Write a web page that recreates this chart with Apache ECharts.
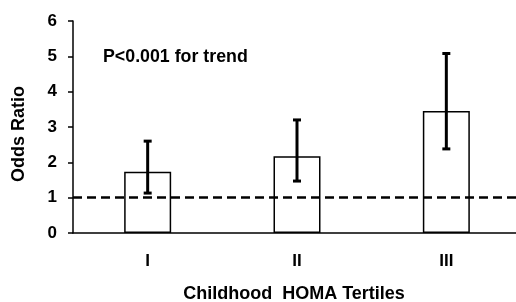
<!DOCTYPE html>
<html>
<head>
<meta charset="utf-8">
<script src="https://cdn.jsdelivr.net/npm/echarts@6/dist/echarts.min.js"></script>
<style>
  html, body { margin: 0; padding: 0; background: #fff; }
  #chart { width: 516px; height: 302px; }
</style>
</head>
<body>
<div id="chart"></div>
<script>
  // tertiles and odds ratios (with 95% CI)
  var tertiles = ['I', 'II', 'III'];
  var oddsRatio = [1.73, 2.17, 3.45];
  var ciLower = [1.13, 1.47, 2.38];
  var ciUpper = [2.6, 3.2, 5.08];
  var refLine = 1;

  var font = 'Arial, "Liberation Sans", sans-serif';
  var myChart = echarts.init(document.getElementById('chart'));

  var option = {
    animation: false,
    textStyle: { fontFamily: font },
    grid: { left: 73, top: 21, width: 448, height: 212, outerBoundsMode: 'none' },
    graphic: [{
      type: 'text',
      left: 103,
      top: 48,
      style: { text: 'P<0.001 for trend', font: 'bold 17.8px ' + font, fill: '#000' }
    }],
    xAxis: {
      type: 'category',
      data: tertiles,
      name: 'Childhood  HOMA Tertiles',
      nameLocation: 'middle',
      nameGap: 52,
      nameTextStyle: { fontSize: 18, fontWeight: 'bold', color: '#000', padding: [0, 6, 0, 0] },
      axisLine: { lineStyle: { color: '#000', width: 1.5 } },
      axisTick: { show: false },
      axisLabel: { margin: 20, fontSize: 17, fontWeight: 'bold', color: '#000' }
    },
    yAxis: {
      type: 'value',
      min: 0, max: 6, interval: 1,
      name: 'Odds Ratio',
      nameLocation: 'middle',
      nameGap: 45,
      nameTextStyle: { fontSize: 18, fontWeight: 'bold', color: '#000', padding: [0, 14, 0, 0] },
      axisLine: { show: true, lineStyle: { color: '#000', width: 1.5 } },
      axisTick: { show: true, length: 5, lineStyle: { color: '#000', width: 1.5 } },
      axisLabel: { margin: 16, fontSize: 17, fontWeight: 'bold', color: '#000' },
      splitLine: { show: false }
    },
    series: [{
      type: 'bar',
      data: oddsRatio,
      barWidth: 47,
      itemStyle: { color: '#fff', borderColor: '#000', borderWidth: 1.5 },
      markLine: {
        silent: true,
        symbol: 'none',
        label: { show: false },
        lineStyle: { color: '#000', width: 2.5, type: [9, 5] },
        data: [[{ x: 73, yAxis: refLine }, { x: 516, yAxis: refLine }]]
      },
      z: 2
    }, {
      // error bars
      type: 'custom',
      data: tertiles.map(function (t, i) { return [i, ciLower[i], ciUpper[i]]; }),
      renderItem: function (params, api) {
        var lo = api.coord([api.value(0), api.value(1)]);
        var hi = api.coord([api.value(0), api.value(2)]);
        var w = 4;
        var st = { stroke: '#000', lineWidth: 3 };
        return {
          type: 'group',
          children: [
            { type: 'line', shape: { x1: hi[0], y1: hi[1], x2: lo[0], y2: lo[1] }, style: st },
            { type: 'line', shape: { x1: hi[0] - w, y1: hi[1], x2: hi[0] + w, y2: hi[1] }, style: st },
            { type: 'line', shape: { x1: lo[0] - w, y1: lo[1], x2: lo[0] + w, y2: lo[1] }, style: st }
          ]
        };
      },
      z: 5
    }]
  };

  myChart.setOption(option);
  window.onresize = () => myChart.resize();
</script>
</body>
</html>
